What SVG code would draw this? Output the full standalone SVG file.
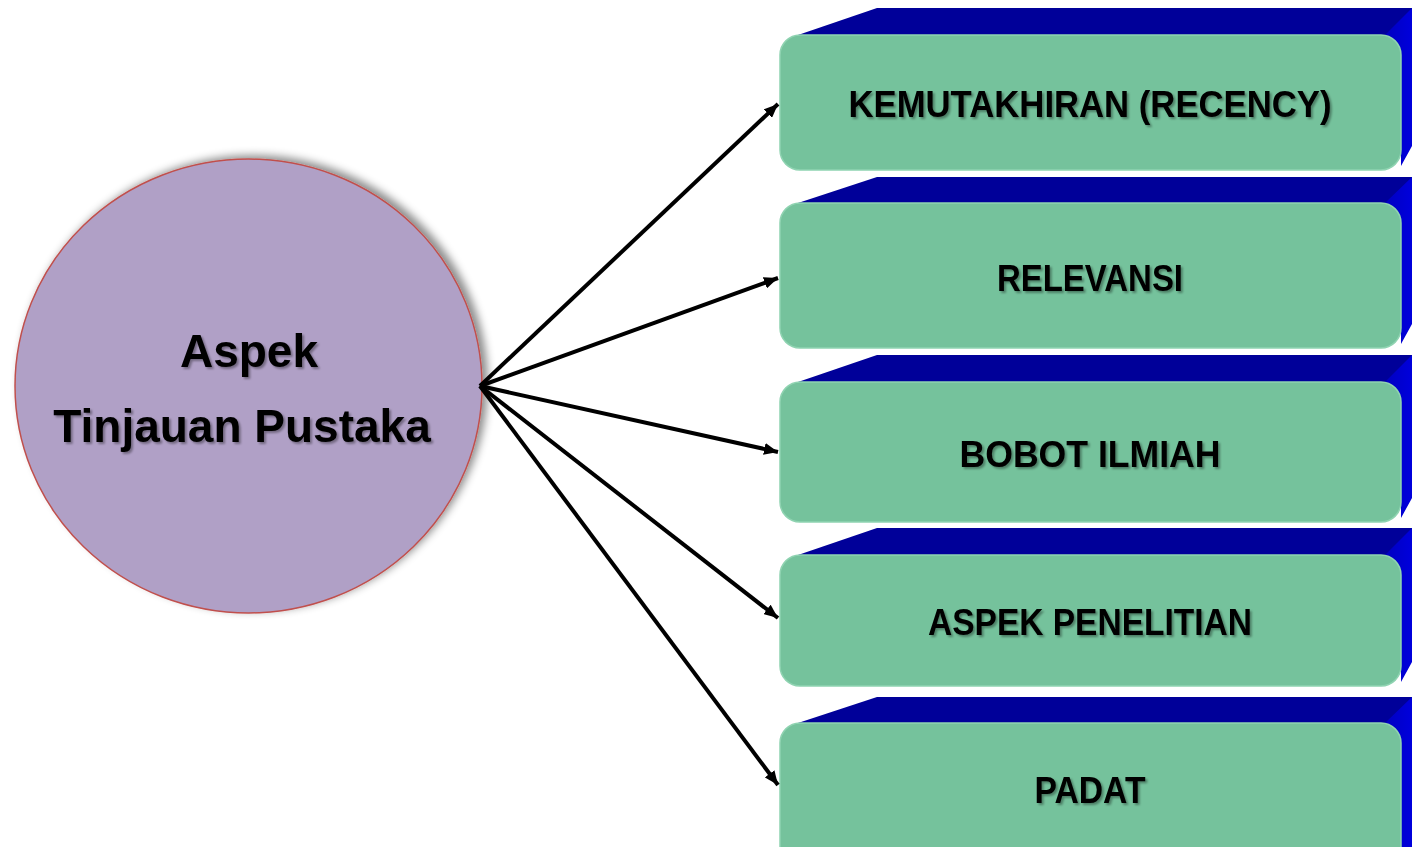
<svg xmlns="http://www.w3.org/2000/svg" width="1412" height="847" viewBox="0 0 1412 847">
<defs>
<style>
.face{fill:#75c29c;stroke:#8fd3b1;stroke-width:1.5}
.top{fill:#000099}
.side{fill:url(#sideg)}
.lbl{font-family:"Liberation Sans",Arial,sans-serif;font-weight:bold;font-size:37px;fill:#000;text-anchor:middle;filter:url(#ts)}
.ctxt{font-family:"Liberation Sans",Arial,sans-serif;font-weight:bold;font-size:46px;fill:#000;text-anchor:middle;filter:url(#ts)}
.arr{stroke:#000;stroke-width:4;fill:none;marker-end:url(#ah)}
</style>
<linearGradient id="sideg" x1="0" y1="0" x2="1" y2="0">
<stop offset="0" stop-color="#0000c0"/>
<stop offset="1" stop-color="#0000dc"/>
</linearGradient>
<filter id="ts" x="-10%" y="-20%" width="120%" height="150%">
<feDropShadow dx="2" dy="2" stdDeviation="1.2" flood-color="#000" flood-opacity="0.35"/>
</filter>
<filter id="cs" x="-10%" y="-10%" width="125%" height="125%">
<feDropShadow dx="5" dy="-3" stdDeviation="4" flood-color="#000" flood-opacity="0.45"/>
</filter>
<marker id="ah" markerUnits="userSpaceOnUse" markerWidth="16" markerHeight="12" refX="14" refY="6" orient="auto">
<path d="M0,0 L14,6 L0,12 Z" fill="#000"/>
</marker>
</defs>
<rect width="1412" height="847" fill="#fff"/>

<g id="node-center">
<ellipse cx="248.5" cy="386" rx="233.5" ry="227" fill="#b0a0c6" stroke="#c0504d" stroke-width="1.5" filter="url(#cs)"/>
<text class="ctxt" x="249" y="367">Aspek</text>
<text class="ctxt" x="242" y="442">Tinjauan Pustaka</text>
</g>

<g id="node-1">
<polygon class="top" points="798,35 877,8 1412,8 1412,35"/>
<polygon class="side" points="1385,35 1412,8 1412,146 1401,166 1401,55"/>
<rect class="face" x="780" y="35" width="621" height="135" rx="20"/>
<text class="lbl" x="1090" y="117" textLength="483" lengthAdjust="spacingAndGlyphs">KEMUTAKHIRAN (RECENCY)</text>
</g>

<g id="node-2">
<polygon class="top" points="798,203 877,177 1412,177 1412,203"/>
<polygon class="side" points="1385,203 1412,177 1412,324 1401,344 1401,223"/>
<rect class="face" x="780" y="203" width="621" height="145" rx="20"/>
<text class="lbl" x="1090" y="291" textLength="186" lengthAdjust="spacingAndGlyphs">RELEVANSI</text>
</g>

<g id="node-3">
<polygon class="top" points="798,382 877,355 1412,355 1412,382"/>
<polygon class="side" points="1385,382 1412,355 1412,498 1401,518 1401,402"/>
<rect class="face" x="780" y="382" width="621" height="140" rx="20"/>
<text class="lbl" x="1090" y="467" textLength="261" lengthAdjust="spacingAndGlyphs">BOBOT ILMIAH</text>
</g>

<g id="node-4">
<polygon class="top" points="798,555 877,528 1412,528 1412,555"/>
<polygon class="side" points="1385,555 1412,528 1412,662 1401,682 1401,575"/>
<rect class="face" x="780" y="555" width="621" height="131" rx="20"/>
<text class="lbl" x="1090" y="635" textLength="324" lengthAdjust="spacingAndGlyphs">ASPEK PENELITIAN</text>
</g>

<g id="node-5">
<polygon class="top" points="798,723 877,697 1412,697 1412,723"/>
<polygon class="side" points="1385,723 1412,697 1412,847 1401,847 1401,743"/>
<rect class="face" x="780" y="723" width="621" height="150" rx="20"/>
<text class="lbl" x="1090" y="803" textLength="111" lengthAdjust="spacingAndGlyphs">PADAT</text>
</g>

<g id="connectors">
<line class="arr" x1="480" y1="386" x2="778" y2="104"/>
<line class="arr" x1="480" y1="386" x2="778" y2="278"/>
<line class="arr" x1="480" y1="386" x2="778" y2="452"/>
<line class="arr" x1="480" y1="386" x2="778" y2="618"/>
<line class="arr" x1="480" y1="386" x2="778" y2="785"/>
</g>
</svg>
